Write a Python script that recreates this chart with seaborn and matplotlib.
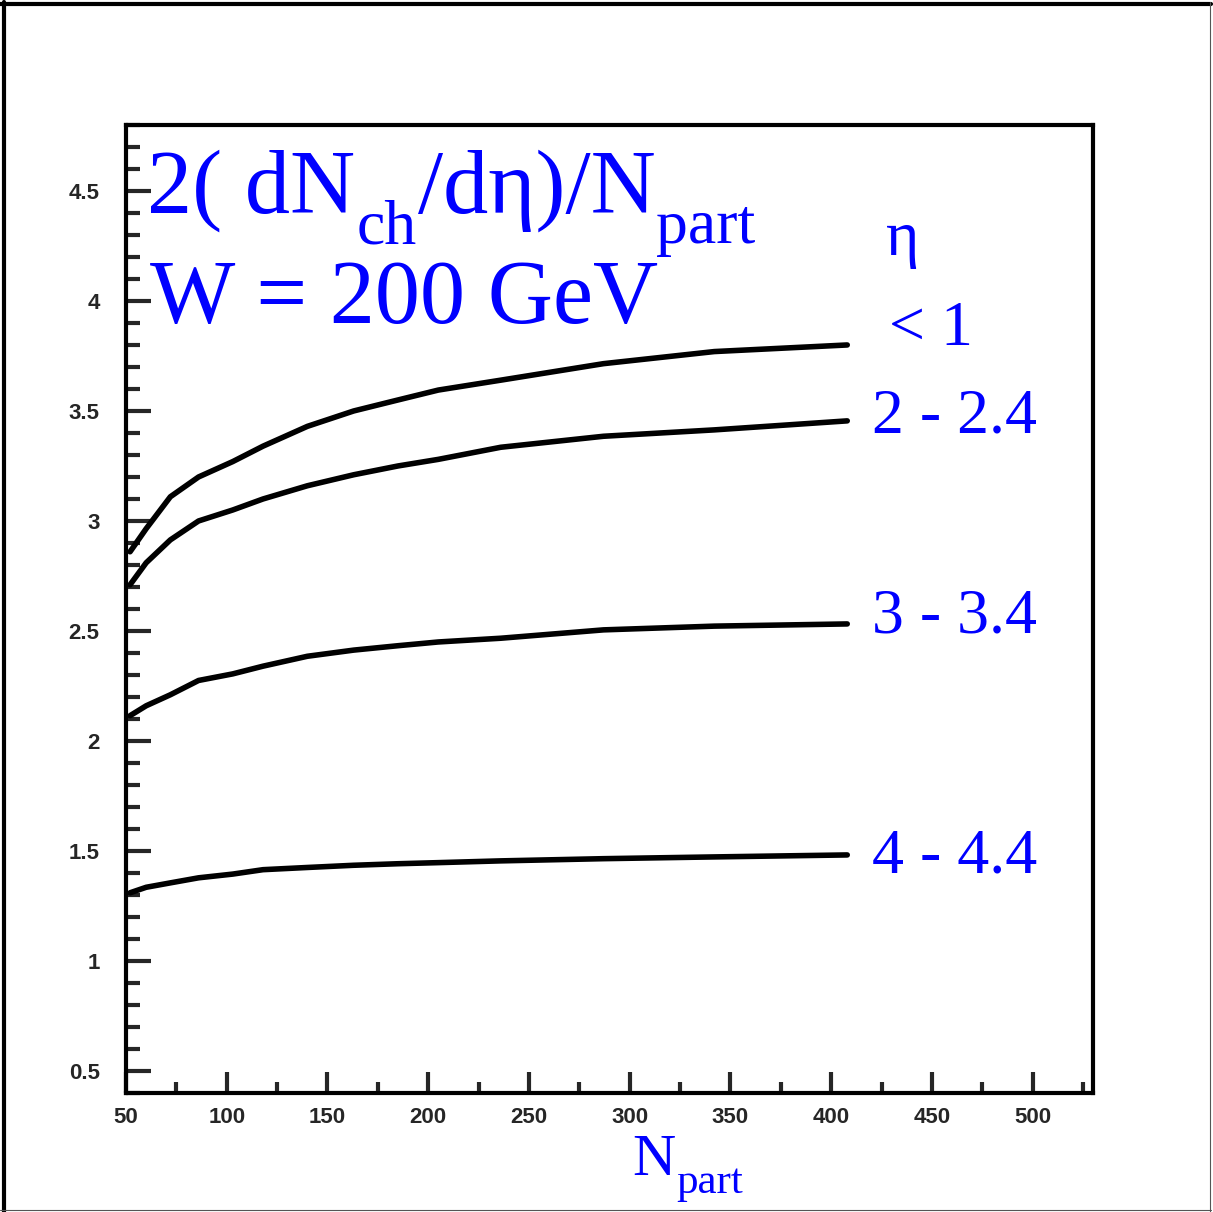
import numpy as np
import pandas as pd
import matplotlib
matplotlib.use("Agg")
import matplotlib.pyplot as plt
from matplotlib.lines import Line2D
from matplotlib.ticker import MultipleLocator
import seaborn as sns

# N_part grid
npart = [52, 60, 72, 86, 103, 118, 140, 163, 185, 205, 236, 287, 342, 408]

# 2(dNch/deta)/Npart for each eta window
eta_lt1 = [2.86, 2.965, 3.11, 3.20, 3.27, 3.34, 3.43, 3.50, 3.55, 3.595, 3.64, 3.715, 3.77, 3.80]
eta_2_24 = [2.71, 2.81, 2.914, 3.00, 3.05, 3.10, 3.16, 3.21, 3.25, 3.28, 3.335, 3.385, 3.414, 3.455]
eta_3_34 = [2.115, 2.16, 2.21, 2.275, 2.305, 2.34, 2.385, 2.413, 2.433, 2.45, 2.467, 2.505, 2.522, 2.532]
eta_4_44 = [1.31, 1.335, 1.355, 1.378, 1.395, 1.415, 1.425, 1.435, 1.442, 1.447, 1.455, 1.465, 1.473, 1.482]

curve_labels = ["< 1", "2 - 2.4", "3 - 3.4", "4 - 4.4"]
ytick_labels = ["0.5", "1", "1.5", "2", "2.5", "3", "3.5", "4", "4.5"]

sns.set_style("ticks")
plt.rcParams["font.family"] = ["Liberation Sans", "DejaVu Sans"]

df = pd.DataFrame({
    "npart": npart * 4,
    "val": eta_lt1 + eta_2_24 + eta_3_34 + eta_4_44,
    "eta": sum([[lab] * len(npart) for lab in curve_labels], []),
})

W, H = 1213, 1212
fig = plt.figure(figsize=(W / 100, H / 100), dpi=100)
ax = fig.add_axes([0.1039, 0.0982, 0.7972, 0.7987])

sns.lineplot(data=df, x="npart", y="val", hue="eta", palette=["black"] * 4,
             linewidth=4.0, legend=False, ax=ax)

ax.set_xlim(50, 530)
ax.set_ylim(0.4, 4.8)
ax.set_xlabel("")
ax.set_ylabel("")

ax.xaxis.set_minor_locator(MultipleLocator(25))
ax.yaxis.set_minor_locator(MultipleLocator(0.1))
ax.set_xticks(np.arange(50, 501, 50))
ax.set_yticks(np.arange(0.5, 4.51, 0.5))
ax.set_yticklabels(ytick_labels)

ax.tick_params(axis="y", which="major", direction="in", length=18, width=3, pad=19)
ax.tick_params(axis="y", which="minor", direction="in", length=10, width=3)
ax.tick_params(axis="x", which="major", direction="in", length=15, width=3, pad=10)
ax.tick_params(axis="x", which="minor", direction="in", length=8, width=3)
ax.tick_params(which="both", top=False, right=False)
for lab in ax.get_xticklabels() + ax.get_yticklabels():
    lab.set_fontweight("bold")
    lab.set_fontsize(16)

for sp in ax.spines.values():
    sp.set_linewidth(3)
    sp.set_color("black")

blue = "#0000ff"
serif = ["Liberation Serif", "DejaVu Serif"]


def text_run(x0, y0, pieces):
    # pieces: (text, fontsize, drop in px); positions in image pixels from top-left
    renderer = fig.canvas.get_renderer()
    x = x0
    for txt, size, drop in pieces:
        t = fig.text(x / W, 1 - (y0 + drop) / H, txt, color=blue, fontsize=size,
                     family=serif, ha="left", va="baseline")
        x = t.get_window_extent(renderer).x1 + 1


text_run(147, 213, [("2( dN", 65, 0), ("ch", 46, 30), ("/dη)/N", 65, 0), ("part", 46, 30)])
text_run(150, 323, [("W = 200 GeV", 65, 0)])

ax.text(427, 4.21, "η", color=blue, fontsize=46, family=serif, va="baseline", ha="left")
label_pos = [(428.5, 3.80), (420.5, 3.40), (420.5, 2.495), (420.5, 1.40)]
for lab, (x, y) in zip(curve_labels, label_pos):
    ax.text(x, y, lab, color=blue, fontsize=46, family=serif, va="baseline", ha="left")

text_run(632, 1175, [("N", 43, 0), ("part", 31, 18)])

# outer frame of the canvas
fig.add_artist(Line2D([0.0033, 0.0033], [0.0, 0.998], transform=fig.transFigure, color="black", lw=3))
fig.add_artist(Line2D([0.0, 0.998], [0.9967, 0.9967], transform=fig.transFigure, color="black", lw=3))
fig.add_artist(Line2D([0.9975, 0.9975], [0.0, 0.998], transform=fig.transFigure, color="#555555", lw=0.8))
fig.add_artist(Line2D([0.0, 0.998], [0.0015, 0.0015], transform=fig.transFigure, color="#555555", lw=0.8))

fig.savefig("out.png", dpi=100, facecolor="white")
